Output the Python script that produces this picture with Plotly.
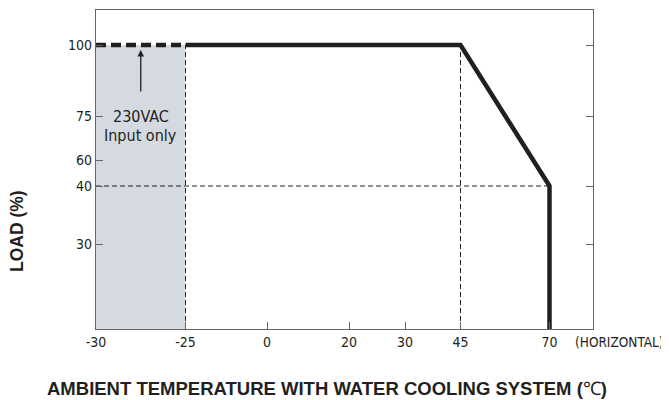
import numpy as np
import plotly.graph_objects as go

# ---------------- data ----------------
temp_ticks = [-30, -25, 0, 20, 30, 45, 70]
load_ticks = [100, 75, 60, 40, 30]
right_load_ticks = [100, 75, 40, 30]

# derating curve (load 0 = bottom of chart)
curve_temp = [-25, 45, 70, 70]
curve_load = [100, 100, 40, 0]
# 230VAC-only extension
ext_temp = [-30, -25]
ext_load = [100, 100]
# guide lines
guide_v_temps = [-25, 45]
guide_h_load = 40
shade_temp = [-30, -25]

# ---------------- schematic (non-linear) axis scales ----------------
X_BREAKS = [-30, -25, 0, 20, 30, 45, 70]
X_UNITS = [0, 89.5, 171, 253, 309, 364.5, 453.5]
X_RANGE = [0, 497]
Y_BREAKS = [0, 30, 40, 60, 75, 100]
Y_UNITS = [0, 85, 143, 169, 213, 284]
Y_RANGE = [0, 319]


def sx(v):
    return np.interp(v, X_BREAKS, X_UNITS)


def sy(v):
    return np.interp(v, Y_BREAKS, Y_UNITS)


FONT = "Liberation Sans Narrow, Arial Narrow, DejaVu Sans Condensed, Arial, sans-serif"
BOLD = "Liberation Sans, Arial, sans-serif"
INK = "#231f20"
AXC = "#666666"

# page body has an 8px margin; compensate so the plot frame sits at 96..593 / 10..329
W, H = 661, 392
ML, MT = 88, 2
MR = W - ML - 497
MB = H - MT - 319

fig = go.Figure()

fig.add_shape(type="rect", xref="x", yref="y",
              x0=float(sx(shade_temp[0])), x1=float(sx(shade_temp[1])),
              y0=float(sy(0)), y1=float(sy(100)),
              fillcolor="#d5dae0", line=dict(width=0), layer="below")

for t in guide_v_temps:
    fig.add_trace(go.Scatter(x=sx([t, t]), y=sy([0, 100]), mode="lines",
                             line=dict(color=INK, width=1, dash="5px,3px"),
                             hoverinfo="skip", showlegend=False))
fig.add_trace(go.Scatter(x=sx([-30, 70]), y=sy([guide_h_load, guide_h_load]), mode="lines",
                         line=dict(color=INK, width=1, dash="5px,3px"),
                         hoverinfo="skip", showlegend=False))

fig.add_trace(go.Scatter(x=sx(ext_temp), y=sy(ext_load), mode="lines",
                         line=dict(color=INK, width=4.5, dash="10px,5px"),
                         showlegend=False))
fig.add_trace(go.Scatter(x=sx(curve_temp), y=sy(curve_load), mode="lines",
                         line=dict(color=INK, width=4.5),
                         showlegend=False))

fig.add_trace(go.Scatter(x=[None], y=[None], yaxis="y2", showlegend=False))

mid_t = (shade_temp[0] + shade_temp[1]) / 2
fig.add_annotation(x=float(sx(mid_t)), y=float(sy(100)) - 5, xref="x", yref="y",
                   ax=0, ay=43, text="", showarrow=True,
                   arrowhead=2, arrowsize=1, arrowwidth=1.3, arrowcolor=INK)
fig.add_annotation(x=float(sx(mid_t)), y=float(sy(100)) - 71, xref="x", yref="y",
                   text="230VAC", showarrow=False, font=dict(family=FONT, size=16, color=INK),
                   yanchor="middle")
fig.add_annotation(x=float(sx(mid_t)), y=float(sy(100)) - 90, xref="x", yref="y",
                   text="Input only", showarrow=False, font=dict(family=FONT, size=16, color=INK),
                   yanchor="middle")

fig.add_annotation(x=477 / 497, y=-13 / 319, xref="paper", yref="paper", text="(HORIZONTAL)",
                   showarrow=False, xanchor="left", yanchor="middle",
                   font=dict(family=FONT, size=13.5, color=INK))

fig.add_annotation(x=(17 - 96) / 497, y=(329 - 231) / 319, xref="paper", yref="paper",
                   xanchor="center", yanchor="middle",
                   text="<b>LOAD (%)</b>", textangle=-90, showarrow=False,
                   font=dict(family=BOLD, size=17.5, color=INK))
fig.add_annotation(x=(327 - 96) / 497, y=(329 - 388) / 319, xref="paper", yref="paper",
                   xanchor="center", yanchor="middle",
                   text="<b>AMBIENT TEMPERATURE WITH WATER COOLING SYSTEM (</b>℃<b>)</b>",
                   showarrow=False, font=dict(family=BOLD, size=18.5, color=INK))

fig.update_layout(
    width=W, height=H,
    margin=dict(l=ML, r=MR, t=MT, b=MB),
    paper_bgcolor="white", plot_bgcolor="white",
    xaxis=dict(range=X_RANGE, tickmode="array", tickvals=list(sx(temp_ticks)),
               ticktext=[str(t) for t in temp_ticks], ticks="inside", ticklen=7,
               tickcolor=AXC, showline=True, linecolor=AXC, linewidth=1.3, mirror=True,
               showgrid=False, zeroline=False, tickfont=dict(family=FONT, size=14, color=INK)),
    yaxis=dict(range=Y_RANGE, tickmode="array", tickvals=list(sy(load_ticks)),
               ticktext=[str(v) for v in load_ticks], ticks="inside", ticklen=7,
               tickcolor=AXC, showline=True, linecolor=AXC, linewidth=1.3, mirror=True,
               showgrid=False, zeroline=False, tickfont=dict(family=FONT, size=14, color=INK)),
    yaxis2=dict(range=Y_RANGE, overlaying="y", side="right", tickmode="array",
                tickvals=list(sy(right_load_ticks)), showticklabels=False, ticks="inside",
                ticklen=7, tickcolor=AXC, showgrid=False, zeroline=False, showline=False),
)

fig.write_html("out.html")
